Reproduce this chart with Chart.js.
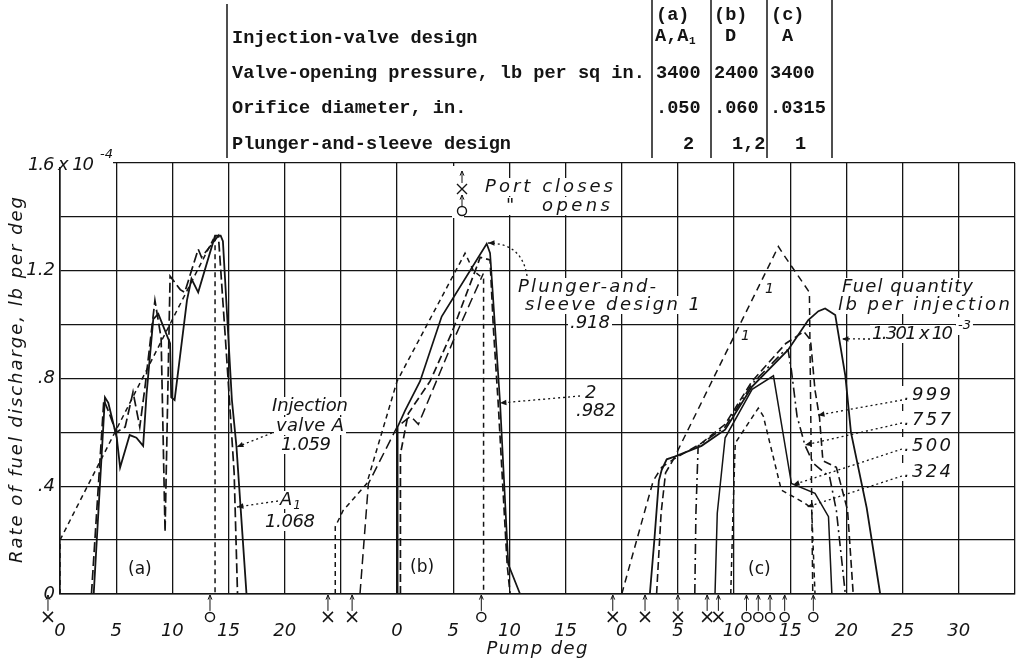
<!DOCTYPE html>
<html>
<head>
<meta charset="utf-8">
<title>Rate of fuel discharge</title>
<script src="https://cdn.jsdelivr.net/npm/chart.js@4.4.1/dist/chart.umd.min.js"></script>
<style>
  html, body { margin: 0; padding: 0; background: #fff; }
  #wrap { position: relative; width: 1016px; height: 664px; }
</style>
</head>
<body>
<div id="wrap"><canvas id="chart" width="1016" height="664"></canvas></div>
<script>
// where each panel's zero sits on the shared pump-degree axis
const panelStart = { a: 0, b: 30, c: 50 };

// tick labels, one per 5 deg from 0 to 85 on the shared axis
const xTickLabels = ['0', '5', '10', '15', '20', '', '0', '5', '10', '15', '0', '5', '10', '15', '20', '25', '30', ''];
const yTickLabels = ['0', '', '.4', '', '.8', '', '1.2', '', ''];

// (a) injection valves A and A1, pump deg vs rate (x 10^-4 lb per deg)
const aGeometric = [[0, 0], [0, 0.2], [13.8, 1.33], [13.8, 0]];
const aValveA = [[3.0, 0], [4.0, 0.73], [4.3, 0.71], [5.05, 0.58], [5.35, 0.47], [6.2, 0.59], [6.8, 0.58], [7.4, 0.55], [7.7, 0.74], [8.3, 1.02], [8.75, 1.04], [9.8, 0.93], [9.9, 0.73], [10.2, 0.72], [11.3, 1.09], [11.7, 1.17], [12.3, 1.12], [13.8, 1.33], [14.3, 1.33], [14.5, 1.31], [15.3, 0.72], [15.7, 0.55], [16.6, 0]];
const aValveA1 = [[2.8, 0], [3.9, 0.72], [4.3, 0.68], [5.0, 0.6], [5.8, 0.62], [6.5, 0.75], [7.1, 0.62], [7.6, 0.78], [8.45, 1.09], [9.0, 0.95], [9.35, 0.23], [9.8, 1.18], [10.7, 1.13], [11.1, 1.12], [12.3, 1.28], [12.6, 1.25], [14.1, 1.33], [14.8, 0.9], [15.5, 0.45], [15.8, 0]];

// (b) valve D, plunger-and-sleeve designs 1 and 2
const bGeometric1 = [[-5.5, 0], [-5.5, 0.25], [-4.8, 0.31], [-2.7, 0.41], [0, 0.79], [6.05, 1.265], [6.8, 1.2], [7.7, 1.17], [7.7, 0]];
const bGeometric2 = [[-3.3, 0], [-2.55, 0.41], [0, 0.62], [1.2, 0.66], [1.9, 0.63], [5.0, 0.94], [7.68, 1.19]];
const bDesign1 = [[0, 0], [0.05, 0.62], [0.7, 0.68], [2.05, 0.79], [3.97, 1.03], [7.98, 1.3], [8.28, 1.265], [9.17, 0.71], [9.9, 0.11], [10.95, 0]];
const bDesign2 = [[0.3, 0], [0.3, 0.52], [1.0, 0.67], [2.94, 0.79], [4.87, 0.97], [7.09, 1.215], [7.4, 1.25], [8.28, 1.24], [8.57, 0.99], [9.0, 0.71], [9.8, 0.11], [10.06, 0]];

// (c) valve A, design 1, five fuel quantities
const cGeometric = [[0, 0], [1.33, 0.2], [2.8, 0.42], [3.55, 0.47], [4.6, 0.5], [13.94, 1.29], [14.4, 1.26], [16.7, 1.12], [17.0, 0]];
const cQty1301 = [[2.5, 0], [2.9, 0.2], [3.3, 0.42], [3.55, 0.46], [4.0, 0.5], [4.7, 0.51], [7.1, 0.55], [9.2, 0.61], [11.6, 0.77], [14.8, 0.906], [16.6, 1.017], [17.5, 1.05], [18.1, 1.06], [19.0, 1.036], [19.9, 0.81], [20.4, 0.6], [21.8, 0.32], [23.0, 0]];
const cQty999 = [[3.1, 0], [3.5, 0.3], [3.9, 0.45], [4.6, 0.5], [7.1, 0.56], [9.2, 0.63], [11.6, 0.79], [14.6, 0.93], [16.2, 0.974], [16.8, 0.943], [17.2, 0.757], [17.6, 0.655], [17.9, 0.495], [19.1, 0.47], [20.1, 0.31], [20.6, 0]];
const cQty757 = [[6.5, 0], [6.6, 0.3], [6.8, 0.55], [9.2, 0.62], [11.6, 0.78], [14.4, 0.9], [14.8, 0.906], [15.1, 0.83], [15.6, 0.66], [16.3, 0.553], [17.05, 0.485], [18.5, 0.435], [19.1, 0.31], [19.9, 0]];
const cQty500 = [[8.3, 0], [8.5, 0.3], [9.2, 0.58], [11.6, 0.76], [13.5, 0.81], [15.1, 0.41], [17.2, 0.374], [18.4, 0.287], [18.7, 0]];
const cQty324 = [[9.7, 0], [9.9, 0.3], [10.1, 0.56], [12.15, 0.69], [12.6, 0.66], [14.2, 0.386], [16.3, 0.337], [16.9, 0.318], [17.2, 0]];

// port closes (x) and port opens (o), pump deg in each panel
const portClosesA = [-1.07];
const portOpensA = [13.35];
const portClosesB = [-6.15, -4.0];
const portOpensB = [7.5];
const portClosesC = [-0.8, 2.07, 5.0, 7.6, 8.6];
const portOpensC = [11.1, 12.15, 13.2, 14.5, 17.05];

const ink = '#141414';
const sans = '"DejaVu Sans", "Liberation Sans", sans-serif';
const italic = (size) => 'italic ' + size + 'px ' + sans;
const markerLevel = -0.085;

function curve(points, panel, dash, width) {
  return {
    data: points.map(p => ({ x: p[0] + panelStart[panel], y: p[1] })),
    showLine: true,
    borderColor: ink,
    borderWidth: width || 1.7,
    borderDash: dash || [],
    pointRadius: 0,
    tension: 0,
    fill: false
  };
}

const closes = [].concat(
  portClosesA.map(v => v + panelStart.a),
  portClosesB.map(v => v + panelStart.b),
  portClosesC.map(v => v + panelStart.c));
const opens = [].concat(
  portOpensA.map(v => v + panelStart.a),
  portOpensB.map(v => v + panelStart.b),
  portOpensC.map(v => v + panelStart.c));

function text(ctx, str, x, y, opts) {
  opts = opts || {};
  ctx.save();
  ctx.font = opts.font || italic(18);
  ctx.textBaseline = 'middle';
  ctx.textAlign = 'left';
  let spacing = 0;
  const natural = ctx.measureText(str).width;
  if (opts.w && str.length > 1) spacing = (opts.w - natural) / (str.length - 1);
  ctx.letterSpacing = spacing + 'px';
  const w = natural + spacing * (str.length - 1);
  let left = x;
  if (opts.align === 'center') left = x - w / 2;
  if (opts.align === 'right') left = x - w;
  if (opts.bg !== false) {
    ctx.fillStyle = '#fff';
    ctx.fillRect(left - 2, y - 9, w + 4, 18);
  }
  ctx.fillStyle = ink;
  ctx.fillText(str, left, y);
  ctx.restore();
  return left + w;
}

function arrowHead(ctx, from, tip, len, open) {
  const ang = Math.atan2(tip[1] - from[1], tip[0] - from[0]);
  ctx.beginPath();
  ctx.moveTo(tip[0] - len * Math.cos(ang - 0.4), tip[1] - len * Math.sin(ang - 0.4));
  ctx.lineTo(tip[0], tip[1]);
  ctx.lineTo(tip[0] - len * Math.cos(ang + 0.4), tip[1] - len * Math.sin(ang + 0.4));
  if (open) { ctx.stroke(); } else { ctx.closePath(); ctx.fill(); }
}

function leader(ctx, start, tip, control) {
  ctx.save();
  ctx.strokeStyle = ink;
  ctx.fillStyle = ink;
  ctx.lineWidth = 1.3;
  ctx.setLineDash([2, 3]);
  ctx.beginPath();
  ctx.moveTo(start[0], start[1]);
  if (control) ctx.quadraticCurveTo(control[0], control[1], tip[0], tip[1]);
  else ctx.lineTo(tip[0], tip[1]);
  ctx.stroke();
  ctx.setLineDash([]);
  arrowHead(ctx, control || start, tip, 7, false);
  ctx.restore();
}

function cross(ctx, x, y) {
  ctx.beginPath();
  ctx.moveTo(x - 5, y - 5); ctx.lineTo(x + 5, y + 5);
  ctx.moveTo(x + 5, y - 5); ctx.lineTo(x - 5, y + 5);
  ctx.stroke();
}

function ring(ctx, x, y) {
  ctx.beginPath();
  ctx.arc(x, y, 4.5, 0, Math.PI * 2);
  ctx.fillStyle = '#fff';
  ctx.fill();
  ctx.stroke();
}

const overlay = {
  id: 'overlay',
  afterDraw(chart) {
    const ctx = chart.ctx;
    const xs = chart.scales.x, ys = chart.scales.y;
    const P = (x, y) => [xs.getPixelForValue(x), ys.getPixelForValue(y)];
    const bottom = chart.chartArea.bottom;
    const my = ys.getPixelForValue(markerLevel);

    // port markers below the axis, each with a little arrow up to it
    ctx.save();
    ctx.strokeStyle = ink;
    ctx.lineWidth = 1;
    closes.concat(opens).forEach(v => {
      const px = xs.getPixelForValue(v);
      ctx.beginPath();
      ctx.moveTo(px, my - 6);
      ctx.lineTo(px, bottom + 1);
      ctx.stroke();
      arrowHead(ctx, [px, my - 6], [px, bottom + 1], 5, true);
    });
    ctx.lineWidth = 1.5;
    closes.forEach(v => cross(ctx, xs.getPixelForValue(v), my));
    opens.forEach(v => ring(ctx, xs.getPixelForValue(v), my));
    ctx.restore();

    // table of test conditions
    const mono = 'bold 18.6px "Liberation Mono", "DejaVu Sans Mono", monospace';
    ctx.save();
    ctx.strokeStyle = ink;
    ctx.lineWidth = 1.5;
    [[227, 4], [652, 0], [711, 0], [767, 0], [832, 0]].forEach(l => {
      ctx.beginPath(); ctx.moveTo(l[0], l[1]); ctx.lineTo(l[0], 158); ctx.stroke();
    });
    ctx.restore();
    const rows = ['Injection-valve design', 'Valve-opening pressure, lb per sq in.', 'Orifice diameter, in.', 'Plunger-and-sleeve design'];
    [38, 73, 108, 144].forEach((y, i) => text(ctx, rows[i], 232, y, { font: mono, bg: false }));
    text(ctx, '(a)', 656, 15, { font: mono, bg: false });
    text(ctx, '(b)', 714, 15, { font: mono, bg: false });
    text(ctx, '(c)', 771, 15, { font: mono, bg: false });
    text(ctx, 'A,A', 655, 36, { font: mono, bg: false });
    text(ctx, '1', 689, 41, { font: 'bold 11px "Liberation Mono", monospace', bg: false });
    text(ctx, 'D', 725, 36, { font: mono, bg: false });
    text(ctx, 'A', 782, 36, { font: mono, bg: false });
    text(ctx, '3400', 656, 73, { font: mono, bg: false });
    text(ctx, '2400', 714, 73, { font: mono, bg: false });
    text(ctx, '3400', 770, 73, { font: mono, bg: false });
    text(ctx, '.050', 656, 108, { font: mono, bg: false });
    text(ctx, '.060', 714, 108, { font: mono, bg: false });
    text(ctx, '.0315', 770, 108, { font: mono, bg: false });
    text(ctx, '2', 683, 144, { font: mono, bg: false });
    text(ctx, '1,2', 732, 144, { font: mono, bg: false });
    text(ctx, '1', 795, 144, { font: mono, bg: false });

    // top value of the rate axis, with its multiplier
    ctx.save();
    ctx.fillStyle = '#fff';
    ctx.fillRect(58, 159, 55, 8);
    ctx.restore();
    text(ctx, '1.6 x 10', 28, 165, { w: 66, bg: false });
    text(ctx, '-4', 100, 155, { font: italic(13), bg: false });

    // axis titles
    ctx.save();
    ctx.translate(17, 380);
    ctx.rotate(-Math.PI / 2);
    text(ctx, 'Rate of fuel discharge, lb per deg', 0, 0, { align: 'center', w: 366, bg: false });
    ctx.restore();
    text(ctx, 'Pump deg', 537, 649, { align: 'center', w: 101, bg: false });

    // key for the port markers
    ctx.save();
    ctx.strokeStyle = ink; ctx.fillStyle = '#fff'; ctx.lineWidth = 1.4;
    ctx.fillRect(452, 166, 12, 52);
    cross(ctx, 462, 189);
    ring(ctx, 462, 211);
    ctx.lineWidth = 1;
    ctx.beginPath(); ctx.moveTo(462, 183); ctx.lineTo(462, 171); ctx.stroke();
    arrowHead(ctx, [462, 183], [462, 171], 5, true);
    ctx.beginPath(); ctx.moveTo(462, 206); ctx.lineTo(462, 195); ctx.stroke();
    arrowHead(ctx, [462, 206], [462, 195], 5, true);
    ctx.restore();
    text(ctx, 'Port closes', 485, 187, { w: 128 });
    text(ctx, '"', 506, 206);
    text(ctx, 'opens', 542, 206, { w: 68 });

    // leaders first, so the labels sit on top of their ends
    leader(ctx, [272, 433], P(15.75, 0.546));
    leader(ctx, [278, 501], P(15.75, 0.323));
    leader(ctx, [527, 276], P(38.1, 1.303), [522, 243]);
    leader(ctx, [580, 396], P(39.16, 0.709));
    leader(ctx, [870, 339], P(69.6, 0.947));
    leader(ctx, [902, 400], P(67.47, 0.664));
    leader(ctx, [902, 423], P(66.31, 0.553));
    leader(ctx, [902, 449], P(65.24, 0.405));
    leader(ctx, [902, 476], P(66.49, 0.323));

    // panel (a)
    const upright = '17px ' + sans;
    text(ctx, '(a)', 128, 570, { font: upright, bg: false });
    text(ctx, 'Injection', 272, 406, { w: 76 });
    text(ctx, 'valve A', 276, 426, { w: 68 });
    text(ctx, '1.059', 281, 445, { w: 50 });
    const aEnd = text(ctx, 'A', 280, 500);
    text(ctx, '1', aEnd + 1, 506, { font: italic(12), bg: false });
    text(ctx, '1.068', 265, 522, { w: 50 });

    // panel (b)
    text(ctx, '(b)', 410, 568, { font: upright, bg: false });
    text(ctx, 'Plunger-and-', 518, 287, { w: 138 });
    text(ctx, 'sleeve design 1', 525, 305, { w: 175 });
    text(ctx, '.918', 570, 323, { w: 40 });
    text(ctx, '2', 585, 393);
    text(ctx, '.982', 576, 411, { w: 40 });

    // panel (c)
    text(ctx, '(c)', 748, 570, { font: upright, bg: false });
    text(ctx, '1', 741, 336, { font: italic(14), bg: false });
    text(ctx, '1', 765, 289, { font: italic(14), bg: false });
    text(ctx, 'Fuel quantity', 842, 287, { w: 131 });
    text(ctx, 'lb per injection', 838, 305, { w: 172 });
    text(ctx, '1.301 x 10', 872, 334, { w: 81 });
    text(ctx, '-3', 958, 326, { font: italic(13) });
    text(ctx, '.999', 904, 395, { w: 47 });
    text(ctx, '.757', 904, 420, { w: 47 });
    text(ctx, '.500', 904, 446, { w: 47 });
    text(ctx, '.324', 904, 472, { w: 47 });
  }
};

const datasets = [
  curve(aGeometric, 'a', [5, 4], 1.5),
  curve(aValveA, 'a', [], 1.8),
  curve(aValveA1, 'a', [10, 4], 1.7),
  curve(bGeometric1, 'b', [5, 4], 1.5),
  curve(bGeometric2, 'b', [10, 5], 1.5),
  curve(bDesign1, 'b', [], 1.7),
  curve(bDesign2, 'b', [8, 4], 1.7),
  curve(cGeometric, 'c', [7, 5], 1.5),
  curve(cQty1301, 'c', [], 1.8),
  curve(cQty999, 'c', [8, 4], 1.6),
  curve(cQty757, 'c', [10, 4, 2, 4], 1.6),
  curve(cQty500, 'c', [], 1.5),
  curve(cQty324, 'c', [5, 4], 1.5)
];

const tickFont = { family: sans, style: 'italic', size: 18 };

const chart = new Chart(document.getElementById('chart'), {
  type: 'scatter',
  data: { datasets: datasets },
  options: {
    responsive: false,
    animation: false,
    devicePixelRatio: 1,
    layout: { padding: { top: 163, right: 1, left: 0, bottom: 0 } },
    plugins: { legend: { display: false }, tooltip: { enabled: false } },
    scales: {
      x: {
        type: 'linear',
        min: 0,
        max: 85,
        afterFit: (scale) => { scale.height = 70; },
        afterBuildTicks: (scale) => {
          scale.ticks = xTickLabels.map((_, i) => ({ value: i * 5 }));
        },
        ticks: {
          autoSkip: false,
          maxRotation: 0,
          padding: 0,
          color: ink,
          font: tickFont,
          callback: (value) => xTickLabels[Math.round(value / 5)] ?? ''
        },
        grid: { color: ink, lineWidth: 1.3, drawTicks: true, tickLength: 27, tickColor: 'rgba(0,0,0,0)' },
        border: { color: ink, width: 1.6 }
      },
      y: {
        type: 'linear',
        min: 0,
        max: 1.6,
        afterFit: (scale) => { scale.width = 60; },
        afterBuildTicks: (scale) => {
          scale.ticks = yTickLabels.map((_, i) => ({ value: i * 0.2 }));
        },
        ticks: {
          autoSkip: false,
          padding: 5,
          color: ink,
          font: tickFont,
          callback: (value) => yTickLabels[Math.round(value / 0.2)] ?? ''
        },
        grid: { color: ink, lineWidth: 1.3, drawTicks: false },
        border: { color: ink, width: 1.6 }
      }
    }
  },
  plugins: [overlay]
});
</script>
</body>
</html>
